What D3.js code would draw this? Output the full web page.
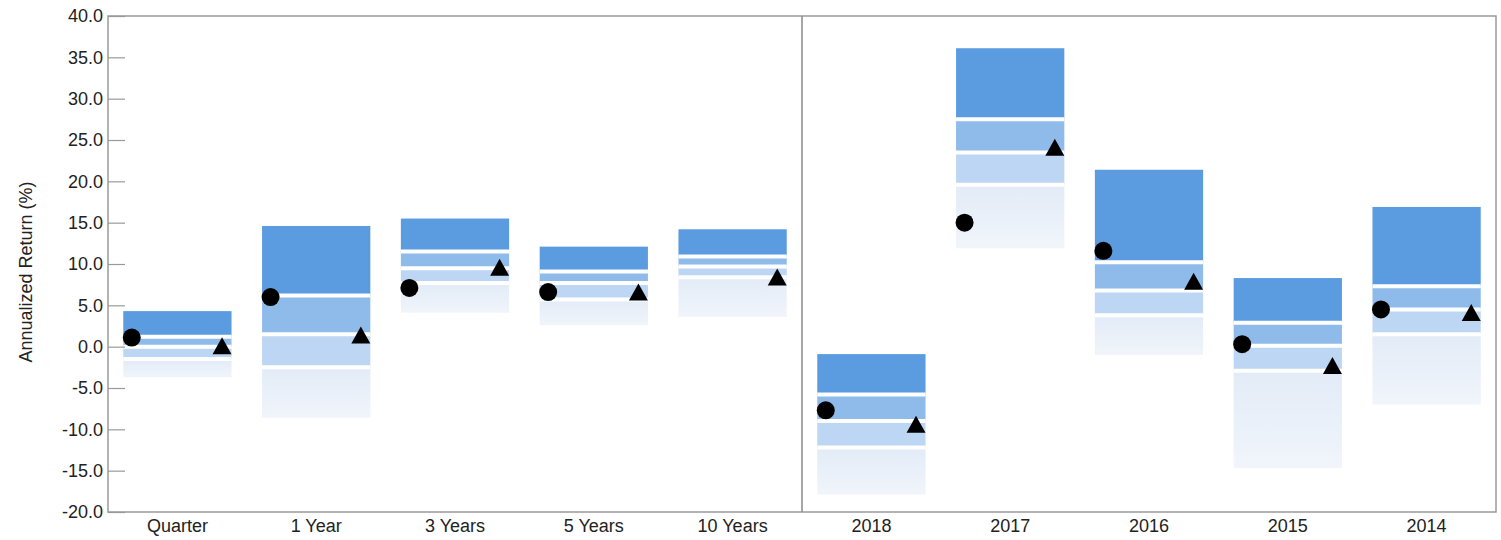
<!DOCTYPE html>
<html><head><meta charset="utf-8">
<script src="https://cdn.jsdelivr.net/npm/d3@7/dist/d3.min.js"></script>
<style>html,body{margin:0;padding:0;background:#fff;}svg{display:block;font-family:"Liberation Sans",Arial,sans-serif;}</style>
</head><body><svg id="c" width="1501" height="540"></svg>
<script>
const categories = ["Quarter","1 Year","3 Years","5 Years","10 Years","2018","2017","2016","2015","2014"];
const p5   = [4.3, 14.6, 15.5, 12.1, 14.2, -0.9, 36.1, 21.4, 8.3, 16.9];
const p25  = [1.2,  6.2, 11.5,  9.1, 10.9, -5.8, 27.5, 10.2, 2.9,  7.3];
const p50  = [0.0,  1.5,  9.5,  7.7,  9.7, -9.0, 23.5,  6.8, 0.1,  4.5];
const p75  = [-1.5, -2.5, 7.7,  5.7,  8.4, -12.2, 19.6, 3.8, -2.9, 1.5];
const p95  = [-3.7, -8.6, 4.1,  2.6,  3.6, -17.9, 11.9, -1.0, -14.7, -7.0];
const fund = [1.1,  6.0,  7.1,  6.6, null, -7.7, 15.0, 11.6, 0.3, 4.5];
const bench= [0.0,  1.3,  9.5,  6.5,  8.3, -9.5, 24.0,  7.8, -2.4, 4.0];
const yTicks = [40,35,30,25,20,15,10,5,0,-5,-10,-15,-20];
const yTitle = "Annualized Return (%)";

const svg = d3.select("#c");
const L = 108, R = 1496, T = 16, B = 512;
const x = d3.scaleBand().domain(categories).range([L, R]).paddingInner(0.22).paddingOuter(0.11);
const y = d3.scaleLinear().domain([-20, 40]).range([B, T]);

const defs = svg.append("defs");
const g = defs.append("linearGradient").attr("id","fade").attr("x1",0).attr("y1",0).attr("x2",0).attr("y2",1);
g.append("stop").attr("offset","0%").attr("stop-color","#e2ebf7");
g.append("stop").attr("offset","100%").attr("stop-color","#f1f5fb");

const colors = ["#5b9be0", "#8fbbea", "#bdd6f3", "url(#fade)"];
const segs = [];
categories.forEach((c,i)=>{
  const b = [p5[i],p25[i],p50[i],p75[i],p95[i]];
  for(let k=0;k<4;k++) segs.push({c, top:b[k], bot:b[k+1], k});
});
svg.append("g").selectAll("rect").data(segs).join("rect")
  .attr("x", d=>x(d.c)).attr("width", x.bandwidth())
  .attr("y", d=>y(d.top)).attr("height", d=>y(d.bot)-y(d.top))
  .attr("fill", d=>colors[d.k]);
// white separators
const seps = [];
categories.forEach((c,i)=>{ [p25[i],p50[i],p75[i]].forEach(v=>seps.push({c,v})); });
svg.append("g").selectAll("line").data(seps).join("line")
  .attr("x1", d=>x(d.c)).attr("x2", d=>x(d.c)+x.bandwidth())
  .attr("y1", d=>y(d.v)).attr("y2", d=>y(d.v))
  .attr("stroke","#fff").attr("stroke-width",4);

// frame
svg.append("rect").attr("x",L).attr("y",T).attr("width",R-L).attr("height",B-T)
  .attr("fill","none").attr("stroke","#9a9a9a").attr("stroke-width",1.5);
const divX = (x("10 Years")+x.bandwidth()+x("2018"))/2;
svg.append("line").attr("x1",divX).attr("x2",divX)
  .attr("y1",T).attr("y2",B).attr("stroke","#8a8a8a").attr("stroke-width",1.5);

// y axis
const ya = svg.append("g").attr("transform",`translate(${L},0)`)
  .call(d3.axisLeft(y).tickValues(yTicks).tickFormat(d=>d.toFixed(1)).tickSizeInner(-17).tickSizeOuter(0).tickPadding(5));
ya.select(".domain").remove();
ya.selectAll(".tick line").attr("stroke","#999").attr("stroke-width",1.2);
ya.selectAll(".tick text").attr("font-size",18).attr("fill","#222").attr("font-family","Liberation Sans, Arial, sans-serif");

// x labels
const xa = svg.append("g").attr("transform",`translate(0,${B})`)
  .call(d3.axisBottom(x).tickSize(0).tickPadding(7));
xa.select(".domain").remove();
xa.selectAll(".tick text").attr("font-size",18).attr("fill","#222").attr("font-family","Liberation Sans, Arial, sans-serif");

svg.append("text").attr("transform",`translate(32,${(T+B)/2 + 8}) rotate(-90)`)
  .attr("text-anchor","middle").attr("font-size",18).attr("fill","#222").text(yTitle);

// markers
svg.append("g").selectAll("circle").data(categories.map((c,i)=>({c,v:fund[i]})).filter(d=>d.v!==null))
  .join("circle").attr("cx", d=>x(d.c)+8.5).attr("cy", d=>y(d.v)).attr("r",9).attr("fill","#000");
svg.append("g").selectAll("path").data(categories.map((c,i)=>({c,v:bench[i]})))
  .join("path")
  .attr("d", d=>{ const cx = x(d.c)+x.bandwidth()-9.5, cy = y(d.v); return `M${cx},${cy-9.5} L${cx+9.5},${cy+7.5} L${cx-9.5},${cy+7.5} Z`; })
  .attr("fill","#000");
</script></body></html>
